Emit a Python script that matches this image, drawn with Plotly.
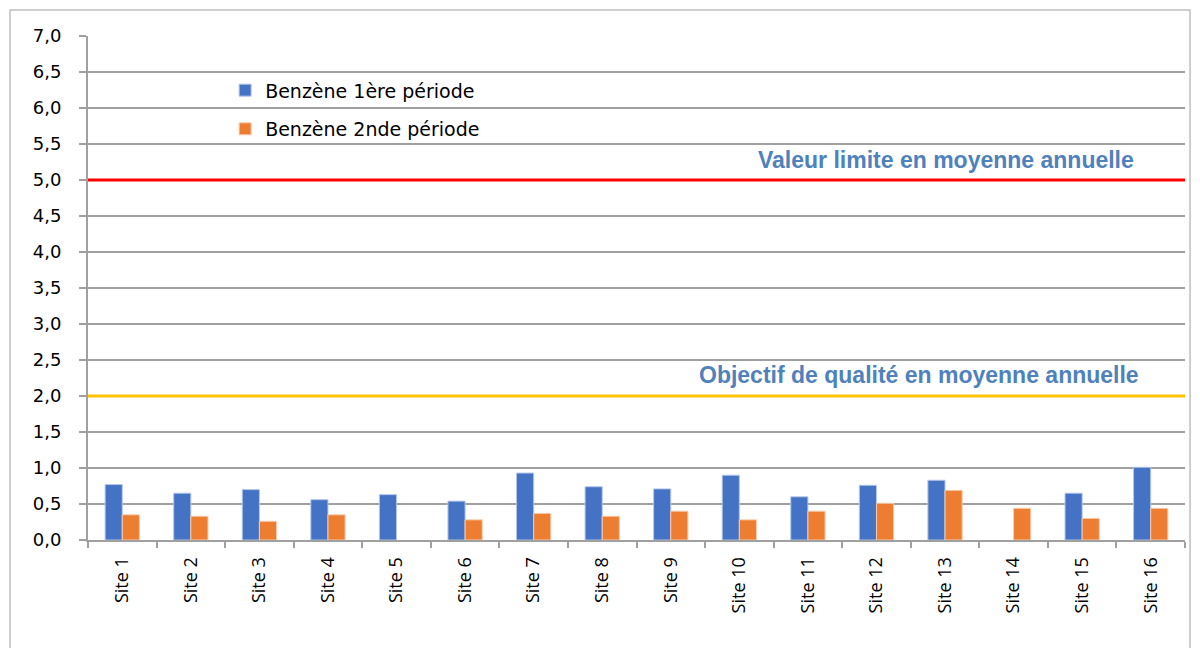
import plotly.graph_objects as go

sites = [f"Site {i}" for i in range(1, 17)]
periode1 = [0.77, 0.65, 0.70, 0.56, 0.63, 0.54, 0.93, 0.74, 0.71, 0.90, 0.60, 0.76, 0.83, None, 0.65, 1.01]
periode2 = [0.35, 0.33, 0.26, 0.35, None, 0.28, 0.37, 0.33, 0.40, 0.28, 0.40, 0.51, 0.69, 0.44, 0.30, 0.44]
valeur_limite = 5.0
objectif_qualite = 2.0
y_ticks = [0.0, 0.5, 1.0, 1.5, 2.0, 2.5, 3.0, 3.5, 4.0, 4.5, 5.0, 5.5, 6.0, 6.5, 7.0]
y_ticklabels = [f"{v:.1f}".replace(".", ",") for v in y_ticks]

fig = go.Figure()
fig.add_trace(go.Bar(x=sites, y=periode1, name="Benzène 1ère période",
                     marker=dict(color="#4472C4", line=dict(color="#B4C7E7", width=1)),
                     legendgroup="a"))
fig.add_trace(go.Bar(x=sites, y=periode2, name="Benzène 2nde période",
                     marker=dict(color="#ED7D31", line=dict(color="#F8CBAD", width=1)),
                     legendgroup="b"))

fig.add_shape(type="line", xref="paper", yref="y", x0=0, x1=1, y0=valeur_limite, y1=valeur_limite,
              line=dict(color="#FF0000", width=3))
fig.add_shape(type="line", xref="paper", yref="y", x0=0, x1=1, y0=objectif_qualite, y1=objectif_qualite,
              line=dict(color="#FFC000", width=3))
# outer chart border
fig.add_shape(type="rect", xref="paper", yref="paper", x0=-0.0711, x1=1.0046, y0=-0.25, y1=1.0516,
              line=dict(color="#BFBFBF", width=1.5), layer="below")

fig.add_annotation(x=0.955, xref="paper", y=valeur_limite, yref="y", yshift=20,
                   text="<b>Valeur limite en moyenne annuelle</b>", showarrow=False,
                   xanchor="right", font=dict(family="Liberation Sans, Arial", size=23, color="#4F81BD"))
fig.add_annotation(x=0.96, xref="paper", y=objectif_qualite, yref="y", yshift=21,
                   text="<b>Objectif de qualité en moyenne annuelle</b>", showarrow=False,
                   xanchor="right", font=dict(family="Liberation Sans, Arial", size=23, color="#4F81BD"))

fig.update_layout(
    width=1200, height=648,
    margin=dict(l=80, r=23, t=28, b=116),
    plot_bgcolor="white", paper_bgcolor="white",
    barmode="group", bargap=0.5, bargroupgap=0.0,
    font=dict(family="DejaVu Sans, sans-serif", size=18, color="#000000"),
    legend=dict(x=0.125, y=0.93, xanchor="left", yanchor="top", bgcolor="rgba(0,0,0,0)",
                font=dict(family="DejaVu Sans", size=19), tracegroupgap=11),
    showlegend=True,
)
fig.update_xaxes(
    tickangle=-90, showline=True, linecolor="#A0A0A0", linewidth=2,
    ticks="outside", tickson="boundaries", ticklen=6, tickcolor="#A0A0A0", tickwidth=2,
    tickfont=dict(family="Open Sans", size=18), showgrid=False, ticklabelstandoff=8,
)
fig.update_yaxes(
    range=[0, 7], tickvals=y_ticks, ticktext=y_ticklabels,
    showline=True, linecolor="#A0A0A0", linewidth=2,
    ticks="outside", ticklen=7, tickcolor="#A0A0A0", tickwidth=2,
    showgrid=True, gridcolor="#A0A0A0", gridwidth=1.5, zeroline=False,
    tickfont=dict(family="DejaVu Sans", size=18), ticklabelstandoff=14,
)

fig.write_html("out.html")
